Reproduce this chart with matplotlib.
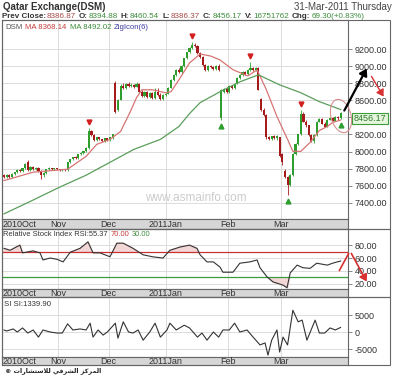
import numpy as np
import matplotlib
matplotlib.use("Agg")
import matplotlib.pyplot as plt
from matplotlib.patches import Rectangle, Ellipse, FancyArrowPatch
from matplotlib.transforms import Affine2D

W, H = 400, 380
plt.rcParams['font.family'] = ['Liberation Sans', 'DejaVu Sans']

# daily candles, DSM index, 2010-10 .. 2011-03-31 (trading-day index)
opens = [
    7720, 7700, 7725, 7700, 7735, 7758, 7781, 7770, 7804, 7874,
    7781, 7816, 7793, 7804, 7770, 7723, 7746, 7793, 7804, 7793,
    7804, 7793, 7781, 7793, 7781, 7874, 7909, 7932, 7920, 7967,
    7979, 8002, 8037, 8235, 8188, 8130, 8165, 8142, 8118, 8153,
    8130, 8165, 8805, 8491, 8607, 8770, 8746, 8793, 8770, 8781,
    8758, 8793, 8700, 8653, 8700, 8642, 8688, 8630, 8700, 8665,
    8619, 8665, 8677, 8746, 8839, 8898, 8956, 8932, 9002, 9095,
    9165, 9212, 9247, 9235, 9153, 9107, 9014, 8956, 9002, 8991,
    8968, 9002, 8398, 8700, 8735, 8700, 8770, 8746, 8793, 8863,
    8898, 8932, 8909, 8956, 8979, 8956, 8979, 8620, 8491, 8432,
    8165, 8142, 8177, 8153, 8165, 7967, 7770, 7700, 7607, 7723,
    7967, 8084, 8200, 8444, 8351, 8305, 8188, 8118, 8188, 8351,
    8386, 8328, 8293, 8374, 8398, 8363, 8409, 8394.88]
closes = [
    7700, 7725, 7700, 7735, 7758, 7781, 7770, 7804, 7851, 7781,
    7816, 7793, 7804, 7770, 7723, 7746, 7793, 7804, 7793, 7804,
    7793, 7781, 7793, 7781, 7874, 7909, 7932, 7920, 7967, 7979,
    8002, 8037, 8235, 8188, 8130, 8165, 8142, 8118, 8153, 8130,
    8165, 8200, 8467, 8607, 8770, 8746, 8793, 8770, 8781, 8758,
    8793, 8700, 8653, 8700, 8642, 8688, 8630, 8700, 8665, 8619,
    8665, 8677, 8746, 8839, 8898, 8956, 8932, 9002, 9095, 9165,
    9212, 9247, 9235, 9153, 9107, 9014, 8956, 9002, 8991, 8968,
    9002, 8956, 8723, 8735, 8700, 8770, 8746, 8793, 8863, 8898,
    8932, 8909, 8956, 8979, 8956, 8979, 8723, 8491, 8432, 8165,
    8142, 8177, 8153, 8177, 7944, 7874, 7700, 7607, 7723, 7967,
    8084, 8200, 8444, 8351, 8305, 8188, 8118, 8188, 8351, 8386,
    8328, 8293, 8374, 8398, 8363, 8409, 8386.87, 8456.17]
highs = [
    7735, 7735, 7740, 7745, 7765, 7790, 7795, 7810, 7860, 7900,
    7825, 7830, 7815, 7815, 7780, 7760, 7800, 7815, 7812, 7810,
    7810, 7800, 7800, 7798, 7880, 7915, 7940, 7950, 7975, 7990,
    8010, 8050, 8281, 8250, 8200, 8175, 8175, 8150, 8160, 8160,
    8170, 8210, 8830, 8615, 8790, 8800, 8800, 8810, 8800, 8795,
    8810, 8800, 8715, 8710, 8712, 8700, 8700, 8740, 8740, 8680,
    8670, 8690, 8755, 8850, 8905, 8965, 8975, 9010, 9100, 9170,
    9220, 9281, 9270, 9245, 9165, 9115, 9025, 9010, 9015, 9005,
    9010, 9020, 8735, 8745, 8750, 8775, 8780, 8800, 8870, 8905,
    8940, 8945, 8965, 9050, 8995, 8990, 8990, 8630, 8510, 8440,
    8180, 8185, 8190, 8190, 8175, 7980, 7790, 7715, 7735, 7980,
    8095, 8210, 8491, 8460, 8365, 8315, 8200, 8200, 8360, 8395,
    8395, 8340, 8380, 8405, 8410, 8420, 8420, 8460.54]
lows = [
    7690, 7695, 7690, 7695, 7725, 7750, 7760, 7765, 7795, 7775,
    7770, 7785, 7780, 7760, 7676, 7700, 7740, 7785, 7785, 7785,
    7785, 7775, 7775, 7770, 7775, 7865, 7900, 7915, 7915, 7955,
    7970, 7995, 8030, 8180, 8120, 8120, 8130, 8110, 8110, 8120,
    8120, 8150, 8455, 8480, 8600, 8730, 8735, 8760, 8755, 8740,
    8750, 8690, 8640, 8640, 8630, 8630, 8615, 8620, 8655, 8600,
    8605, 8650, 8670, 8740, 8830, 8890, 8920, 8925, 8995, 9085,
    9150, 9200, 9225, 9140, 9095, 9000, 8945, 8945, 8975, 8960,
    8955, 8945, 8374, 8680, 8690, 8690, 8735, 8735, 8785, 8855,
    8890, 8900, 8900, 8945, 8945, 8945, 8715, 8480, 8420, 8150,
    8130, 8130, 8145, 8140, 7932, 7840, 7690, 7490, 7595, 7715,
    7955, 8075, 8190, 8340, 8290, 8180, 8110, 8105, 8180, 8340,
    8320, 8285, 8285, 8365, 8355, 8355, 8375, 8386.37]

# moving averages
ma_short_x = [0, 11, 24, 31, 35, 40, 44, 47.5, 50, 52, 56, 61, 63, 66, 70, 74, 78,
              81.5, 86.5, 92, 95.5, 99, 103, 107, 109, 112, 115.5, 119, 122, 124, 127]
ma_short = [7660, 7758, 7793, 7944, 8084, 8142, 8235, 8456, 8630, 8723, 8723, 8688,
            8700, 8839, 9037, 9142, 9118, 9072, 8956, 8886, 8956, 8723, 8409, 8142,
            8002, 8002, 8107, 8246, 8293, 8340, 8368.14]
ma_long_x = [0, 11, 21, 31, 40, 49, 59, 66, 70, 74, 81.5, 89, 96, 104, 112, 119, 127]
ma_long = [7270, 7432, 7583, 7723, 7874, 8025, 8142, 8293, 8444, 8572, 8700, 8816,
           8898, 8781, 8688, 8584, 8492.02]

zig_top = [32, 71, 93, 112]
zig_bottom = [82, 107, 127]

rsi_x = [0, 2.3, 6, 7, 11, 13.6, 14.7, 17.4, 20, 22.3, 25, 28.7, 31.7, 33.6, 36.2, 40,
         42.6, 45, 48.7, 52.5, 56, 60, 62.6, 66.4, 70, 72.8, 74, 76.6, 79, 81.5, 82.6,
         86.4, 89, 92.8, 95.5, 96.6, 99.2, 101.5, 105.3, 106.8, 108, 110.6, 112.8,
         115.5, 118, 122, 124, 127]
rsi = [75, 72, 80, 68, 71, 68, 57, 60, 58, 54, 69, 75, 85, 68, 68, 62, 83, 83, 75, 65,
       62, 60, 72, 77, 80, 75, 65, 54, 54, 46, 38, 38, 52, 54, 57, 45, 31, 23, 18, 14,
       37, 49, 45, 44, 52, 49, 52, 55.37]

si_x = [0, 1, 3.5, 5, 7, 9, 11, 13, 14.7, 17.4, 20, 22, 24, 26, 28.7, 31, 32.5, 33.6,
        35.5, 37.4, 39, 42, 43, 45, 47, 48.7, 50.6, 52.5, 55, 57, 59, 61.5, 62.6, 65,
        68, 70, 73, 74.7, 76.6, 79, 81, 82.6, 85, 87, 89, 91.7, 94, 96.6, 98.5, 99.6,
        101, 103, 104, 105.3, 107, 109, 111, 112.5, 114.3, 117.4, 119, 121, 123, 125, 127]
si = [600, 300, 900, 0, 1200, -300, 600, -1500, 600, 0, -300, -300, 2400, 600, 900, 600,
      2600, -1500, 600, -900, 0, 2600, -1800, 3000, 0, -300, 600, -2400, 0, 2600, -1500,
      600, 2600, 600, 2000, 1200, -1500, -300, -2400, 0, -1500, 600, 600, 2600, 0, 600,
      -1500, -3800, -3200, -6800, -2400, 600, -5900, -1500, -3800, 6400, 3000, 3500,
      -2400, 3500, -300, -300, 1200, 600, 1339.90]

month_pos = [20.5, 39.5, 61, 84.5, 104.5]
month_lbl = ["Nov", "Dec", "2011Jan", "Feb", "Mar"]

fig = plt.figure(figsize=(4, 3.8), dpi=100)
px = Affine2D().scale(1.0 / W, -1.0 / H).translate(0, 1) + fig.transFigure
rend = fig.canvas.get_renderer()


def box(x0, y0, x1, y1):
    return [x0 / W, 1 - y1 / H, (x1 - x0) / W, (y1 - y0) / H]


def chain(x0, y, pieces, size):
    # pieces: (text, colour, weight, gap after)
    x = x0
    for t, col, wt, gap in pieces:
        tx = fig.text(x / W, 1 - y / H, t, fontsize=size, color=col,
                      fontweight=wt, va='center')
        x += tx.get_window_extent(rend).width + gap


XL = (-0.75, 129.8)
GRID = '#dcdcdc'
EDGE = '#666666'


def style_panel(ax, yticks, ylabels, ylim):
    ax.set_xlim(*XL)
    ax.set_ylim(*ylim)
    ax.yaxis.tick_right()
    ax.set_yticks(yticks)
    ax.set_yticklabels(ylabels)
    ax.set_xticks(month_pos)
    ax.set_xticklabels([])
    ax.tick_params(axis='x', length=0)
    ax.tick_params(axis='y', length=3, width=0.6, color='#777', labelsize=6.5,
                   labelcolor='#333', pad=2)
    ax.grid(True, color=GRID, lw=0.7)
    ax.set_axisbelow(True)
    for s in ax.spines.values():
        s.set_color(EDGE)
        s.set_linewidth(0.8)


def date_strip(rect):
    st = fig.add_axes(box(*rect))
    st.set_facecolor('#d6d6d6')
    st.set_xlim(*XL)
    st.set_ylim(0, 1)
    st.set_xticks([])
    st.set_yticks([])
    for s in st.spines.values():
        s.set_color(EDGE)
        s.set_linewidth(0.8)
    st.text(-0.4, 0.45, "2010Oct", fontsize=6.5, color='#333', va='center')
    for p, l in zip(month_pos, month_lbl):
        st.text(p, 0.45, l, fontsize=6.5, color='#333', va='center', ha='center')


# ---- main price panel
ax = fig.add_axes(box(2, 20, 348, 219))
main_ticks = list(range(7400, 9201, 200))
style_panel(ax, main_ticks, ["" if v == 8400 else "%.2f" % v for v in main_ticks],
            (7210, 9540))

idx = np.arange(len(closes))
o = np.array(opens); c = np.array(closes)
hi = np.array(highs); lo = np.array(lows)
up = c >= o
cols = np.where(up, '#2f9e2f', '#a51a1a')
ax.vlines(idx, lo, hi, colors=cols, lw=0.6, zorder=3)
ax.bar(idx, np.maximum(np.abs(c - o), 8), bottom=np.minimum(o, c), width=0.8,
       color=cols, zorder=3)
ax.plot(ma_short_x, ma_short, color='#d87474', lw=0.9, zorder=4)
ax.plot(ma_long_x, ma_long, color='#5b9e5b', lw=0.9, zorder=4)
ax.plot(zig_top, hi[zig_top] + 70, 'v', color='#d02020', ms=3.5, zorder=5)
ax.plot(zig_bottom, lo[zig_bottom] - 70, '^', color='#2f9e2f', ms=3.5, zorder=5)
ax.text(72.5, 7455, "www.asmainfo.com", fontsize=8.5, color='#cccccc', ha='center',
        va='center', zorder=1)

chain(5, 27.5, [("DSM", '#555555', 'normal', 3), ("MA 8368.14", '#c43c3c', 'normal', 3),
                ("MA 8492.02", '#3c8c3c', 'normal', 3),
                ("ZigIcon(6)", '#3c3ca0', 'normal', 0)], 5.6)

date_strip((2, 219, 348, 229))

# ---- RSI panel
ar = fig.add_axes(box(2, 229, 348, 289))
style_panel(ar, [20, 40, 60, 80], ["20.00", "40.00", "60.00", "80.00"], (12, 105))
ar.plot(rsi_x, rsi, color='#333333', lw=0.8, zorder=4)
r = np.array(rsi)
ar.fill_between(rsi_x, r, 70, where=r > 70, interpolate=True, color='#f3d6d6', zorder=2)
ar.fill_between(rsi_x, r, 30, where=r < 30, interpolate=True, color='#f3d6d6', zorder=2)
ar.axhline(70, color='#c83232', lw=0.9, zorder=3)
ar.axhline(30, color='#3c9c3c', lw=0.9, zorder=3)
chain(3, 234.5, [("Relative Stock Index RSI:55.37", '#333333', 'normal', 2.5),
                 ("70.00", '#c43c3c', 'normal', 2.5),
                 ("30.00", '#3c8c3c', 'normal', 0)], 5.4)

date_strip((2, 289, 348, 297))

# ---- SI panel
asi = fig.add_axes(box(2, 297, 348, 357))
style_panel(asi, [-5000, 0, 5000], ["-5000", "0", "5000"], (-7350, 10300))
asi.plot(si_x, si, color='#333333', lw=0.8, zorder=4)
fig.text(4 / W, 1 - 304.5 / H, "SI SI:1339.90", fontsize=5.6, color='#333', va='center')

date_strip((2, 357, 348, 365))

# ---- frames around each block
for y0, y1 in [(20, 229), (229, 297), (297, 365)]:
    fig.add_artist(Rectangle((2, y0), 388, y1 - y0, transform=px, fill=False,
                             ec=EDGE, lw=0.8))

# ---- header
fig.text(3 / W, 1 - 7 / H, "Qatar Exchange(DSM)", fontsize=7, fontweight='bold',
         color='#333', va='center')
fig.text(392 / W, 1 - 7 / H, "31-Mar-2011 Thursday", fontsize=7, color='#444',
         ha='right', va='center')
dark, red, green = '#333333', '#a84848', '#3c8c3c'
chain(2, 16.5, [("Prev Close:", dark, 'bold', 0.5), ("8386.87", red, 'normal', 3),
                ("O:", dark, 'bold', 1), ("8394.88", green, 'normal', 3),
                ("H:", dark, 'bold', 1), ("8460.54", green, 'normal', 3),
                ("L:", dark, 'bold', 1), ("8386.37", red, 'normal', 3),
                ("C:", dark, 'bold', 1), ("8456.17", green, 'normal', 3),
                ("V:", dark, 'bold', 1), ("16751762", green, 'normal', 3),
                ("Chg:", dark, 'bold', 1), ("69.30(+0.83%)", green, 'normal', 0)], 5.8)

# ---- hand-drawn annotations
fig.add_artist(Ellipse((341, 116), 20, 34, angle=-15, transform=px, fill=False,
                       ec='#d89090', lw=0.8))
fig.add_artist(FancyArrowPatch((343, 113), (368, 66), transform=px,
                               arrowstyle='-|>,head_length=4,head_width=2.5',
                               color='black', lw=1.6, mutation_scale=1))
fig.add_artist(FancyArrowPatch((370, 74), (385, 99), transform=px,
                               arrowstyle='-|>,head_length=4,head_width=2.5',
                               color='#d83030', lw=1.0, mutation_scale=1))
fig.add_artist(FancyArrowPatch((338, 273), (350, 251), transform=px, arrowstyle='-',
                               color='#d83030', lw=1.2))
fig.add_artist(FancyArrowPatch((350, 251), (368, 284), transform=px,
                               arrowstyle='-|>,head_length=4,head_width=2.5',
                               color='#d83030', lw=1.2, mutation_scale=1))
fig.add_artist(Rectangle((352, 113), 36, 11, transform=px, fc='#e6f6dc', ec='#3c9c3c',
                         lw=0.8))
fig.text(370 / W, 1 - 118.5 / H, "8456.17", fontsize=6.5, color='#2a7a2a',
         ha='center', va='center')

# footer (Arabic, pre-shaped presentation forms in visual order)
w1 = "\ufeb0\ufedb\ufeae\ufee4\ufedf\ufe8d"
w2 = "\ufef2\ufed7\ufeae\ufeb8\ufedf\ufe8d"
w3 = "\ufe95\ufe8d\ufead\ufe8e\ufeb8\ufe98\ufeb3\ufefc\ufedf"
fig.text(5 / W, 1 - 371 / H, "\u00a9 " + w3 + " " + w2 + " " + w1, fontsize=4.6,
         fontweight='bold', family=['DejaVu Sans'], color='#222', va='center')

fig.savefig("out.png", dpi=100)
